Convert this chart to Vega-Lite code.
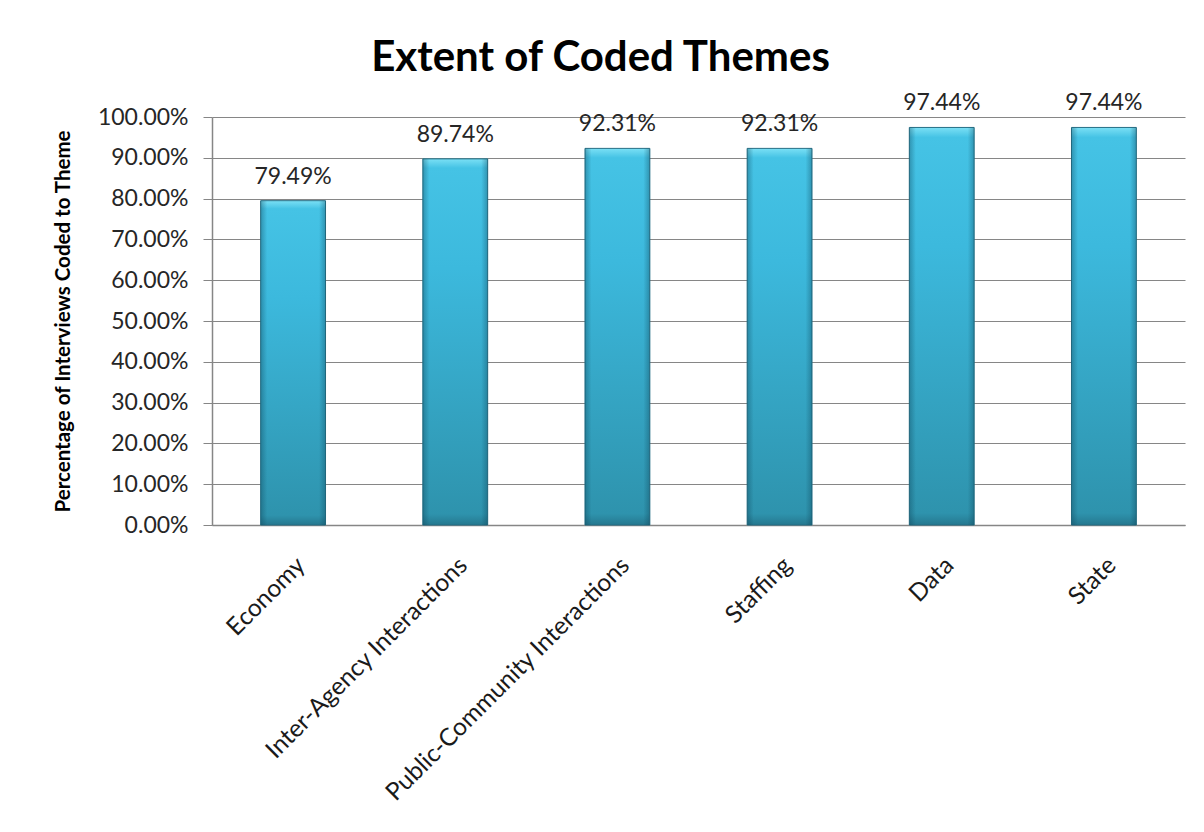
{
  "$schema": "https://vega.github.io/schema/vega-lite/v6.json",
  "autosize": "none",
  "width": 973,
  "height": 408,
  "padding": {"left": 212, "top": 117, "right": 19, "bottom": 307},
  "background": "white",
  "title": {
    "text": "Extent of Coded Themes",
    "font": "Lato",
    "fontSize": 42,
    "fontWeight": "bold",
    "color": "#000000",
    "anchor": "middle",
    "frame": "group",
    "dx": -98,
    "offset": 12
  },
  "data": {
    "values": [
      {"theme": "Economy", "pct": 0.7949},
      {"theme": "Inter-Agency Interactions", "pct": 0.8974},
      {"theme": "Public-Community Interactions", "pct": 0.9231},
      {"theme": "Staffing", "pct": 0.9231},
      {"theme": "Data", "pct": 0.9744},
      {"theme": "State", "pct": 0.9744}
    ]
  },
  "encoding": {
    "x": {
      "field": "theme",
      "type": "nominal",
      "sort": null,
      "scale": {"paddingInner": 0.6, "paddingOuter": 0.3},
      "axis": {
        "title": null,
        "labelAngle": -45,
        "labelFont": "Lato",
        "labelFontSize": 24.5,
        "labelColor": "#1a1a1a",
        "labelPadding": 28,
        "ticks": false,
        "domainColor": "#868686",
        "domainWidth": 1.5,
        "labelLimit": 500
      }
    },
    "y": {
      "field": "pct",
      "type": "quantitative",
      "scale": {"domain": [0, 1], "nice": false},
      "axis": {
        "title": "Percentage of Interviews Coded to Theme",
        "titleFont": "Lato",
        "titleFontSize": 20.5,
        "titleFontWeight": "bold",
        "titleColor": "#000000",
        "titlePadding": 24,
        "format": ".2%",
        "values": [0, 0.1, 0.2, 0.3, 0.4, 0.5, 0.6, 0.7, 0.8, 0.9, 1.0],
        "labelFont": "Lato",
        "labelFontSize": 23,
        "labelColor": "#262626",
        "labelPadding": 15,
        "tickSize": 9,
        "tickColor": "#868686",
        "domainColor": "#868686",
        "domainWidth": 1.5,
        "gridColor": "#868686",
        "gridWidth": 1.2,
        "grid": true
      }
    }
  },
  "layer": [
    {
      "mark": {
        "type": "bar",
        "stroke": "#256f85",
        "strokeWidth": 1,
        "color": {
          "gradient": "linear",
          "x1": 0, "y1": 0, "x2": 0, "y2": 1,
          "stops": [
            {"offset": 0, "color": "#7be0f5"},
            {"offset": 0.025, "color": "#45c3e5"},
            {"offset": 0.3, "color": "#3cb9dd"},
            {"offset": 0.97, "color": "#2e93ad"},
            {"offset": 1, "color": "#25788f"}
          ]
        }
      }
    },
    {
      "mark": {
        "type": "bar",
        "color": {
          "gradient": "linear",
          "x1": 0, "y1": 0, "x2": 1, "y2": 0,
          "stops": [
            {"offset": 0, "color": "rgba(10,60,80,0.35)"},
            {"offset": 0.1, "color": "rgba(10,60,80,0)"},
            {"offset": 0.9, "color": "rgba(10,60,80,0)"},
            {"offset": 1, "color": "rgba(10,60,80,0.35)"}
          ]
        }
      }
    },
    {
      "mark": {
        "type": "text",
        "font": "Lato",
        "fontSize": 23,
        "color": "#262626",
        "baseline": "alphabetic",
        "dy": -17
      },
      "encoding": {
        "text": {"field": "pct", "type": "quantitative", "format": ".2%"}
      }
    }
  ],
  "config": {
    "view": {"stroke": null}
  }
}
